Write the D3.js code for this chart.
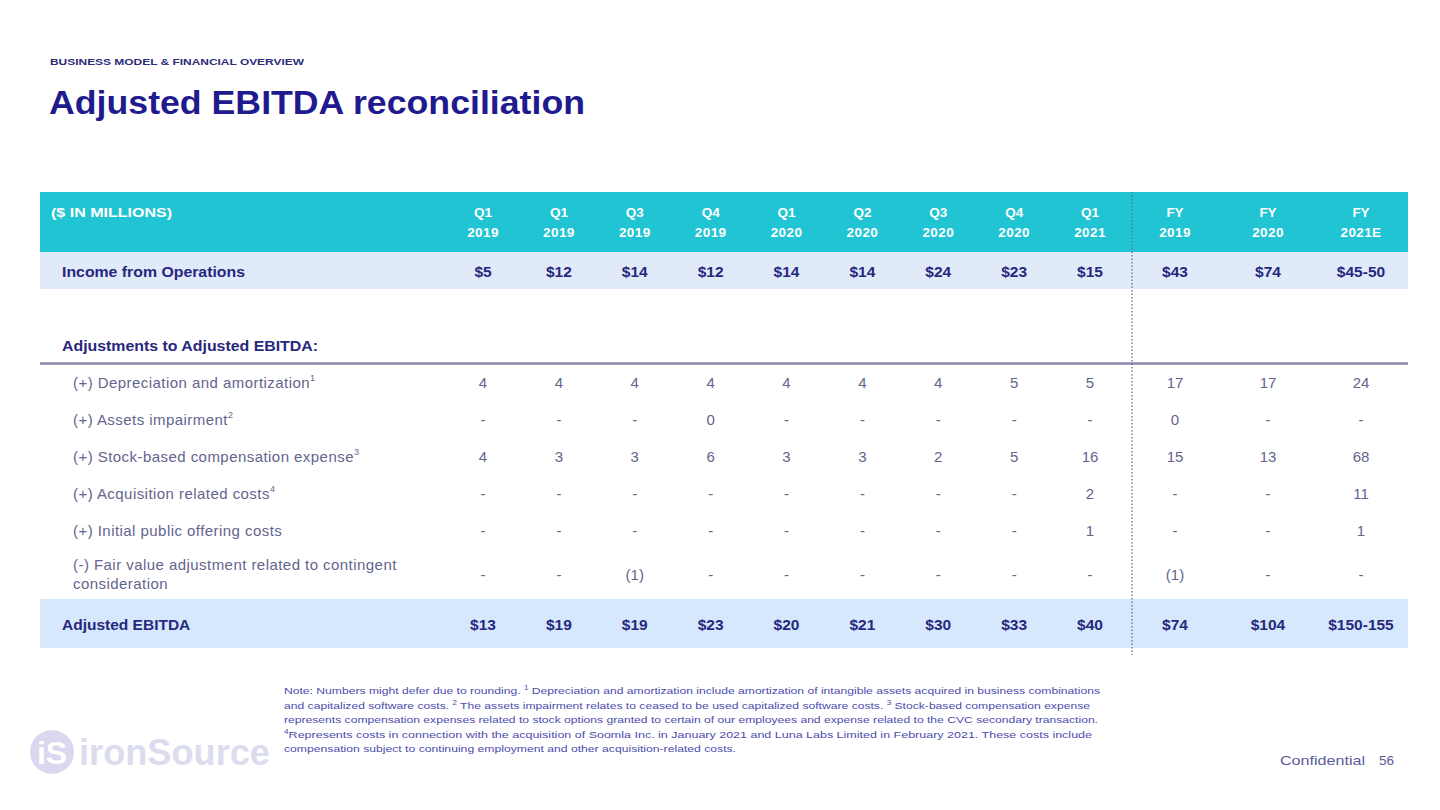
<!DOCTYPE html>
<html><head><meta charset="utf-8">
<script src="https://cdn.jsdelivr.net/npm/d3@7"></script>
<style>
html,body{margin:0;padding:0;background:#fff;}
svg{display:block;font-family:"Liberation Sans",Arial,sans-serif;}
</style></head>
<body>
<svg id="c" width="1440" height="810"></svg>
<script>
// ---- data ----
const periodTop    = ["Q1","Q1","Q3","Q4","Q1","Q2","Q3","Q4","Q1","FY","FY","FY"];
const periodBottom = ["2019","2019","2019","2019","2020","2020","2020","2020","2021","2019","2020","2021E"];
const incomeFromOps = ["$5","$12","$14","$12","$14","$14","$24","$23","$15","$43","$74","$45-50"];
const depreciation  = ["4","4","4","4","4","4","4","5","5","17","17","24"];
const impairment    = ["-","-","-","0","-","-","-","-","-","0","-","-"];
const stockComp     = ["4","3","3","6","3","3","2","5","16","15","13","68"];
const acquisition   = ["-","-","-","-","-","-","-","-","2","-","-","11"];
const ipoCosts      = ["-","-","-","-","-","-","-","-","1","-","-","1"];
const fairValue     = ["-","-","(1)","-","-","-","-","-","-","(1)","-","-"];
const adjEbitda     = ["$13","$19","$19","$23","$20","$21","$30","$33","$40","$74","$104","$150-155"];
const adjLabels = [
  {t:"(+) Depreciation and amortization", s:"1"},
  {t:"(+) Assets impairment", s:"2"},
  {t:"(+) Stock-based compensation expense", s:"3"},
  {t:"(+) Acquisition related costs", s:"4"},
  {t:"(+) Initial public offering costs", s:""},
  {t:"(-) Fair value adjustment related to contingent|consideration", s:""}
];
const adjRows = [depreciation, impairment, stockComp, acquisition, ipoCosts, fairValue];
const notes = [
  [["Note: Numbers might defer due to rounding. ",0],["1",1],[" Depreciation and amortization include amortization of intangible assets acquired in business combinations",0]],
  [["and capitalized software costs. ",0],["2",1],[" The assets impairment relates to ceased to be used capitalized software costs. ",0],["3",1],[" Stock-based compensation expense",0]],
  [["represents compensation expenses related to stock options granted to certain of our employees and expense related to the CVC secondary transaction.",0]],
  [["4",1],["Represents costs in connection with the acquisition of Soomla Inc. in January 2021 and Luna Labs Limited in February 2021. These costs include",0]],
  [["compensation subject to continuing employment and other acquisition-related costs.",0]]
];
const noteWidths = [816, 806, 814, 808, 452];

// ---- layout ----
const svg = d3.select("#c");
const navy = "#27277e", gray = "#64648e";
const colIdx = d3.range(periodTop.length);
const x = d3.scaleLinear().domain([0, 8, 9, 11]).range([483, 1090, 1175, 1361]);
const yAdj = d3.scalePoint().domain(d3.range(5)).range([383, 531]);
const rowY = i => i === 5 ? 575 : yAdj(i);

// titles
svg.append("text").attr("x", 50).attr("y", 65).attr("font-size", 9.5).attr("font-weight", "bold")
  .attr("fill", "#2b2b78").attr("textLength", 254).attr("lengthAdjust", "spacingAndGlyphs")
  .text("BUSINESS MODEL & FINANCIAL OVERVIEW");
svg.append("text").attr("x", 49).attr("y", 114).attr("font-size", 33).attr("font-weight", "bold")
  .attr("fill", "#1f1b8e").attr("textLength", 536).attr("lengthAdjust", "spacingAndGlyphs")
  .text("Adjusted EBITDA reconciliation");

// bands
svg.append("rect").attr("x", 40).attr("y", 192).attr("width", 1368).attr("height", 60).attr("fill", "#21c4d3");
svg.append("rect").attr("x", 40).attr("y", 252).attr("width", 1368).attr("height", 37).attr("fill", "#e1eaf8");
svg.append("rect").attr("x", 40).attr("y", 599).attr("width", 1368).attr("height", 49).attr("fill", "#d6e8fb");
svg.append("line").attr("x1", 40).attr("x2", 1408).attr("y1", 363.5).attr("y2", 363.5)
  .attr("stroke", "#8a88ad").attr("stroke-width", 2.5);
svg.append("line").attr("x1", 1132).attr("x2", 1132).attr("y1", 192).attr("y2", 655)
  .attr("stroke", "#6a6a90").attr("stroke-width", 1.3).attr("stroke-dasharray", "1.5,2");

// header
svg.append("text").attr("x", 51).attr("y", 217).attr("font-size", 12.5).attr("font-weight", "bold")
  .attr("fill", "#fff").attr("textLength", 121).attr("lengthAdjust", "spacingAndGlyphs").text("($ IN MILLIONS)");
const hdr = svg.append("g").selectAll("g").data(colIdx).join("g")
  .attr("transform", i => `translate(${x(i)},0)`);
hdr.append("text").attr("y", 217).attr("text-anchor", "middle").attr("font-size", 13.5).attr("font-weight", "bold")
  .attr("fill", "#fff").text(i => periodTop[i]);
hdr.append("text").attr("y", 237).attr("text-anchor", "middle").attr("font-size", 13.5).attr("font-weight", "bold")
  .attr("fill", "#fff").attr("letter-spacing", 0.4).text(i => periodBottom[i]);

// income row
svg.append("text").attr("x", 62).attr("y", 277).attr("font-size", 15.5).attr("font-weight", "bold")
  .attr("fill", navy).attr("textLength", 183).attr("lengthAdjust", "spacingAndGlyphs").text("Income from Operations");
svg.append("g").selectAll("text").data(colIdx).join("text")
  .attr("x", i => x(i)).attr("y", 277).attr("text-anchor", "middle").attr("font-size", 15.5)
  .attr("font-weight", "bold").attr("fill", navy).text(i => incomeFromOps[i]);

svg.append("text").attr("x", 62).attr("y", 351).attr("font-size", 15.5).attr("font-weight", "bold")
  .attr("fill", navy).attr("textLength", 256).attr("lengthAdjust", "spacingAndGlyphs").text("Adjustments to Adjusted EBITDA:");

// adjustment rows
adjLabels.forEach((d, r) => {
  const parts = d.t.split("|");
  const t = svg.append("text").attr("x", 73).attr("font-size", 15).attr("fill", gray).attr("letter-spacing", 0.45);
  if (parts.length === 1) {
    t.attr("y", rowY(r) + 5);
    t.append("tspan").text(parts[0]);
    if (d.s) t.append("tspan").attr("font-size", 9).attr("dy", -7).text(d.s);
  } else {
    t.attr("y", rowY(r) - 5);
    t.append("tspan").attr("x", 73).text(parts[0]);
    t.append("tspan").attr("x", 73).attr("dy", 19).text(parts[1]);
  }
  svg.append("g").selectAll("text").data(colIdx).join("text")
    .attr("x", i => x(i)).attr("y", rowY(r) + 5).attr("text-anchor", "middle").attr("font-size", 15)
    .attr("fill", gray).text(i => adjRows[r][i]);
});

// adjusted EBITDA
svg.append("text").attr("x", 62).attr("y", 630).attr("font-size", 15.5).attr("font-weight", "bold")
  .attr("fill", navy).text("Adjusted EBITDA");
svg.append("g").selectAll("text").data(colIdx).join("text")
  .attr("x", i => x(i)).attr("y", 630).attr("text-anchor", "middle").attr("font-size", 15.5)
  .attr("font-weight", "bold").attr("fill", navy).text(i => adjEbitda[i]);

// notes
notes.forEach((line, k) => {
  const t = svg.append("text").attr("x", 284).attr("y", 694 + k * 14.6).attr("font-size", 9.8)
    .attr("fill", "#4d4cae").attr("textLength", noteWidths[k]).attr("lengthAdjust", "spacingAndGlyphs");
  let raised = false;
  line.forEach(p => {
    const s = t.append("tspan").text(p[0]);
    if (p[1]) { s.attr("font-size", 6.5).attr("dy", -4); raised = true; }
    else if (raised) { s.attr("dy", 4); raised = false; }
  });
});

// logo
svg.append("circle").attr("cx", 52).attr("cy", 752).attr("r", 22).attr("fill", "#d9d8ef");
svg.append("text").attr("x", 52).attr("y", 764).attr("text-anchor", "middle").attr("font-size", 32)
  .attr("font-weight", "bold").attr("fill", "#fff").text("iS");
svg.append("text").attr("x", 79).attr("y", 765).attr("font-size", 36).attr("font-weight", "bold")
  .attr("fill", "#dcdcef").attr("textLength", 191).attr("lengthAdjust", "spacingAndGlyphs").text("ironSource");

svg.append("text").attr("x", 1280).attr("y", 765).attr("font-size", 13.5).attr("fill", "#5b5b9a")
  .attr("textLength", 85).attr("lengthAdjust", "spacingAndGlyphs").text("Confidential");
svg.append("text").attr("x", 1379).attr("y", 765).attr("font-size", 13.5).attr("fill", "#5b5b9a").text("56");
</script>
</body></html>
